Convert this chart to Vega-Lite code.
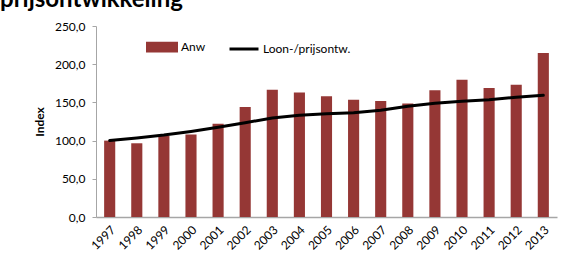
{
  "$schema": "https://vega.github.io/schema/vega-lite/v6.json",
  "autosize": {"type": "none"},
  "width": 461,
  "height": 191,
  "padding": {"left": 96, "top": 26, "right": 7, "bottom": 51},
  "background": "white",
  "title": {
    "text": "prijsontwikkeling",
    "anchor": "start",
    "frame": "group",
    "dx": -96,
    "dy": 11,
    "font": "Lato",
    "fontSize": 24,
    "fontWeight": "bold",
    "color": "#000000",
    "baseline": "alphabetic",
    "offset": 0
  },
  "config": {
    "view": {"stroke": null},
    "font": "Lato"
  },
  "data": {
    "values": [
      {"year": "1997", "series": "Anw", "value": 100},
      {"year": "1998", "series": "Anw", "value": 96.5},
      {"year": "1999", "series": "Anw", "value": 106},
      {"year": "2000", "series": "Anw", "value": 108},
      {"year": "2001", "series": "Anw", "value": 122},
      {"year": "2002", "series": "Anw", "value": 144},
      {"year": "2003", "series": "Anw", "value": 166.5},
      {"year": "2004", "series": "Anw", "value": 163},
      {"year": "2005", "series": "Anw", "value": 158},
      {"year": "2006", "series": "Anw", "value": 153.6},
      {"year": "2007", "series": "Anw", "value": 151.8},
      {"year": "2008", "series": "Anw", "value": 148.6},
      {"year": "2009", "series": "Anw", "value": 166},
      {"year": "2010", "series": "Anw", "value": 179.8},
      {"year": "2011", "series": "Anw", "value": 169},
      {"year": "2012", "series": "Anw", "value": 173},
      {"year": "2013", "series": "Anw", "value": 214.7},
      {"year": "1997", "series": "Loon-/prijsontw.", "value": 100},
      {"year": "1998", "series": "Loon-/prijsontw.", "value": 103.5},
      {"year": "1999", "series": "Loon-/prijsontw.", "value": 107.2},
      {"year": "2000", "series": "Loon-/prijsontw.", "value": 112},
      {"year": "2001", "series": "Loon-/prijsontw.", "value": 117.5},
      {"year": "2002", "series": "Loon-/prijsontw.", "value": 123.5},
      {"year": "2003", "series": "Loon-/prijsontw.", "value": 129.5},
      {"year": "2004", "series": "Loon-/prijsontw.", "value": 133.2},
      {"year": "2005", "series": "Loon-/prijsontw.", "value": 135},
      {"year": "2006", "series": "Loon-/prijsontw.", "value": 136.6},
      {"year": "2007", "series": "Loon-/prijsontw.", "value": 139.7},
      {"year": "2008", "series": "Loon-/prijsontw.", "value": 144.9},
      {"year": "2009", "series": "Loon-/prijsontw.", "value": 148.8},
      {"year": "2010", "series": "Loon-/prijsontw.", "value": 151.4},
      {"year": "2011", "series": "Loon-/prijsontw.", "value": 153.6},
      {"year": "2012", "series": "Loon-/prijsontw.", "value": 156.7},
      {"year": "2013", "series": "Loon-/prijsontw.", "value": 159.3}
    ]
  },
  "encoding": {
    "x": {
      "field": "year",
      "type": "ordinal",
      "scale": {"type": "band", "paddingInner": 0.59, "paddingOuter": 0.3},
      "axis": {
        "title": null,
        "labelAngle": -45,
        "labelFont": "Lato",
        "labelFontSize": 12,
        "labelColor": "#000000",
        "labelPadding": 7,
        "ticks": false,
        "domainColor": "#a6a6a6",
        "domainWidth": 1.5
      }
    },
    "y": {
      "field": "value",
      "type": "quantitative",
      "scale": {"domain": [0, 250], "nice": false},
      "axis": {
        "title": "Index",
        "titleFont": "Lato",
        "titleFontSize": 12,
        "titleFontWeight": "bold",
        "titleColor": "#000000",
        "titlePadding": 8,
        "values": [0, 50, 100, 150, 200, 250],
        "labelExpr": "replace(format(datum.value, '.1f'), '.', ',')",
        "labelFont": "Lato",
        "labelFontSize": 12,
        "labelColor": "#000000",
        "labelPadding": 7,
        "tickSize": 4,
        "tickColor": "#a6a6a6",
        "domainColor": "#a6a6a6",
        "grid": false
      }
    },
    "color": {
      "field": "series",
      "type": "nominal",
      "scale": {"domain": ["Anw", "Loon-/prijsontw."], "range": ["#953735", "#000000"]},
      "legend": {
        "title": null,
        "orient": "none",
        "direction": "horizontal",
        "legendX": 50,
        "legendY": 5,
        "padding": 0,
        "labelFont": "Lato",
        "labelFontSize": 12,
        "labelColor": "#000000",
        "labelOffset": 3,
        "columnPadding": 17,
        "symbolSize": 841,
        "symbolStrokeWidth": 3,
        "encode": {
          "symbols": {
            "update": {
              "shape": [
                {"test": "datum.value === 'Anw'", "value": "M-1,-0.26H1V0.26H-1Z"},
                {"value": "M-1,0H1"}
              ],
              "fill": [
                {"test": "datum.value === 'Anw'", "value": "#953735"},
                {"value": "transparent"}
              ],
              "stroke": [
                {"test": "datum.value === 'Anw'", "value": "transparent"},
                {"value": "#000000"}
              ],
              "strokeWidth": {"value": 3},
              "opacity": {"value": 1}
            }
          }
        }
      }
    }
  },
  "layer": [
    {
      "transform": [{"filter": "datum.series === 'Anw'"}],
      "mark": {"type": "bar", "opacity": 1}
    },
    {
      "transform": [{"filter": "datum.series === 'Loon-/prijsontw.'"}],
      "mark": {"type": "line", "strokeWidth": 3, "strokeCap": "round"}
    }
  ]
}
